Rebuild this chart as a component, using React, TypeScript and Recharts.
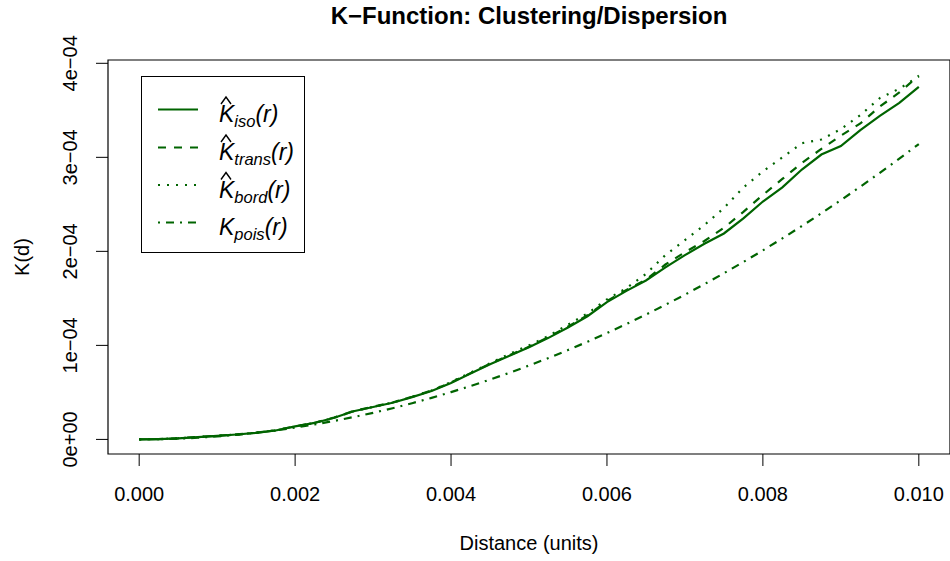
import React from "react";
import {
  LineChart,
  Line,
  XAxis,
  YAxis,
  ReferenceArea,
  Legend,
  Customized,
} from "recharts";

// distance values r
const R_VALUES = [
  0, 0.00025, 0.0005, 0.00075, 0.001, 0.00125, 0.0015, 0.00175, 0.002, 0.00225,
  0.0025, 0.00275, 0.003, 0.00325, 0.0035, 0.00375, 0.004, 0.00425, 0.0045, 0.00475,
  0.005, 0.00525, 0.0055, 0.00575, 0.006, 0.00625, 0.0065, 0.00675, 0.007, 0.00725,
  0.0075, 0.00775, 0.008, 0.00825, 0.0085, 0.00875, 0.009, 0.00925, 0.0095, 0.00975,
  0.01,
];

// K estimates, in units of 1e-4
const K_ISO = [
  0, 0.004, 0.012, 0.024, 0.038, 0.052, 0.07, 0.095, 0.138, 0.175,
  0.23, 0.3, 0.345, 0.39, 0.45, 0.515, 0.6, 0.7, 0.8, 0.89,
  0.98, 1.08, 1.19, 1.31, 1.46, 1.58, 1.69, 1.83, 1.96, 2.08,
  2.19, 2.35, 2.53, 2.68, 2.87, 3.03, 3.12, 3.29, 3.44, 3.58,
  3.75,
];
const K_TRANS = [
  0, 0.004, 0.012, 0.025, 0.039, 0.053, 0.071, 0.096, 0.139, 0.177,
  0.232, 0.302, 0.347, 0.393, 0.453, 0.52, 0.605, 0.705, 0.805, 0.895,
  0.985, 1.09, 1.2, 1.32, 1.47, 1.59, 1.7, 1.86, 1.99, 2.11,
  2.25, 2.42, 2.6, 2.77, 2.94, 3.09, 3.23, 3.36, 3.54, 3.69,
  3.87,
];
const K_BORD = [
  0, 0.004, 0.012, 0.024, 0.038, 0.052, 0.07, 0.095, 0.137, 0.175,
  0.23, 0.3, 0.346, 0.392, 0.452, 0.52, 0.61, 0.71, 0.81, 0.91,
  1.0, 1.1, 1.22, 1.34, 1.49, 1.61, 1.76, 1.96, 2.12, 2.28,
  2.46, 2.68, 2.85, 3.0, 3.15, 3.19, 3.3, 3.45, 3.63, 3.73,
  3.86,
];
const K_POIS = [
  0, 0.002, 0.0079, 0.0177, 0.0314, 0.0491, 0.0707, 0.0962, 0.1257, 0.159,
  0.1963, 0.2376, 0.2827, 0.3318, 0.3848, 0.4418, 0.5027, 0.5675, 0.6362, 0.7088,
  0.7854, 0.8659, 0.9503, 1.0387, 1.131, 1.2272, 1.3273, 1.4314, 1.5394, 1.6513,
  1.7671, 1.8869, 2.0106, 2.1382, 2.2698, 2.4053, 2.5447, 2.688, 2.8353, 2.9865,
  3.1416,
];

const X_TICKS = [0, 0.002, 0.004, 0.006, 0.008, 0.01];
const X_TICK_LABELS = ["0.000", "0.002", "0.004", "0.006", "0.008", "0.010"];
const Y_TICKS = [0, 1e-4, 2e-4, 3e-4, 4e-4];
const Y_TICK_LABELS = ["0e+00", "1e\u221204", "2e\u221204", "3e\u221204", "4e\u221204"];

const SERIES = [
  { key: "iso", sub: "iso", hat: true, dash: undefined as string | undefined },
  { key: "trans", sub: "trans", hat: true, dash: "8 8" },
  { key: "bord", sub: "bord", hat: true, dash: "2 7" },
  { key: "pois", sub: "pois", hat: false, dash: "2 6 8 6" },
];

const UNIT = 1e-4;
const rows = R_VALUES.map((r, i) => ({
  r,
  iso: K_ISO[i] * UNIT,
  trans: K_TRANS[i] * UNIT,
  bord: K_BORD[i] * UNIT,
  pois: K_POIS[i] * UNIT,
}));

const X_DOMAIN: [number, number] = [-0.0004, 0.0104];
const Y_MAX = 3.88e-4;
const Y_DOMAIN: [number, number] = [-0.04 * Y_MAX, 1.04 * Y_MAX];

const COLOR = "#006400";
const FONT = "'Liberation Sans', Arial, Helvetica, sans-serif";

const XTick = (props: any) => {
  const { x, y, payload } = props;
  const idx = X_TICKS.indexOf(payload.value);
  return (
    <text x={x} y={y + 35} textAnchor="middle" fontSize={20} fontFamily={FONT} fill="#000">
      {idx >= 0 ? X_TICK_LABELS[idx] : ""}
    </text>
  );
};

const YTick = (props: any) => {
  const { x, y, payload } = props;
  const idx = Y_TICKS.indexOf(payload.value);
  const bx = x - 19;
  return (
    <text
      x={bx}
      y={y}
      transform={`rotate(-90, ${bx}, ${y})`}
      textAnchor="middle"
      fontSize={20}
      fontFamily={FONT}
      fill="#000"
    >
      {idx >= 0 ? Y_TICK_LABELS[idx] : ""}
    </text>
  );
};

const LegendBox = () => {
  const rowY = [33.5, 71.5, 109, 146.5];
  return (
    <svg width={166} height={180} style={{ display: "block", overflow: "visible" }}>
      <rect x={0.5} y={0.5} width={163} height={176} fill="#fff" stroke="#000" strokeWidth={1} />
      {SERIES.map((s, i) => {
        const cy = rowY[i];
        const base = cy + 12.5;
        const tx = 78;
        return (
          <g key={s.key}>
            <line
              x1={17}
              x2={57}
              y1={cy}
              y2={cy}
              stroke={COLOR}
              strokeWidth={2.2}
              strokeDasharray={s.dash}
            />
            {s.hat && (
              <path
                d={`M ${tx + 2} ${base - 18} L ${tx + 7} ${base - 25} L ${tx + 12} ${base - 18}`}
                fill="none"
                stroke="#000"
                strokeWidth={1.4}
              />
            )}
            <text x={tx} y={base} fontSize={23} fontStyle="italic" fontFamily={FONT} fill="#000">
              K
              <tspan fontSize={16.5} dy={5}>
                {s.sub}
              </tspan>
              <tspan dy={-5}>(r)</tspan>
            </text>
          </g>
        );
      })}
    </svg>
  );
};

const Title = () => (
  <text x={529} y={24} textAnchor="middle" fontSize={24} fontWeight="bold" fontFamily={FONT} fill="#000">
    K{"\u2212"}Function: Clustering/Dispersion
  </text>
);

export default function App() {
  return (
    <div style={{ position: "absolute", left: 0, top: 0, width: 950, height: 561, background: "#fff" }}>
      <LineChart
        width={950}
        height={561}
        data={rows}
        margin={{ top: 60, right: 0, bottom: 0, left: 0 }}
      >
        <XAxis
          dataKey="r"
          type="number"
          domain={X_DOMAIN}
          ticks={X_TICKS}
          allowDataOverflow
          height={107}
          axisLine={false}
          tickLine={{ stroke: "#000", strokeWidth: 1 }}
          tickSize={12}
          tickMargin={0}
          tick={<XTick />}
          interval={0}
          label={{
            content: (p: any) => {
              const vb = p.viewBox || { x: 108, y: 454, width: 842 };
              return (
                <text
                  x={vb.x + vb.width / 2}
                  y={vb.y + 96}
                  textAnchor="middle"
                  fontSize={20}
                  fontFamily={FONT}
                  fill="#000"
                >
                  Distance (units)
                </text>
              );
            },
          }}
        />
        <YAxis
          type="number"
          domain={Y_DOMAIN}
          ticks={Y_TICKS}
          allowDataOverflow
          width={108}
          axisLine={false}
          tickLine={{ stroke: "#000", strokeWidth: 1 }}
          tickSize={12}
          tickMargin={0}
          tick={<YTick />}
          interval={0}
          label={{
            content: (p: any) => {
              const vb = p.viewBox || { x: 0, y: 60, width: 108, height: 394 };
              const cy = vb.y + vb.height / 2;
              return (
                <text
                  x={29}
                  y={cy}
                  transform={`rotate(-90, 29, ${cy})`}
                  textAnchor="middle"
                  fontSize={20}
                  fontFamily={FONT}
                  fill="#000"
                >
                  K(d)
                </text>
              );
            },
          }}
        />
        <ReferenceArea
          x1={X_DOMAIN[0]}
          x2={X_DOMAIN[1]}
          y1={Y_DOMAIN[0]}
          y2={Y_DOMAIN[1]}
          fill="none"
          fillOpacity={0}
          stroke="#000"
          strokeWidth={1.2}
          ifOverflow="visible"
        />
        {SERIES.map((s) => (
          <Line
            key={s.key}
            dataKey={s.key}
            type="linear"
            stroke={COLOR}
            strokeWidth={2.2}
            strokeDasharray={s.dash}
            dot={false}
            activeDot={false}
            isAnimationActive={false}
          />
        ))}
        <Legend
          layout="vertical"
          align="center"
          verticalAlign="middle"
          wrapperStyle={{ left: 141, top: 76, width: 166, height: 180 }}
          content={() => <LegendBox />}
        />
        <Customized component={Title} />
      </LineChart>
    </div>
  );
}
